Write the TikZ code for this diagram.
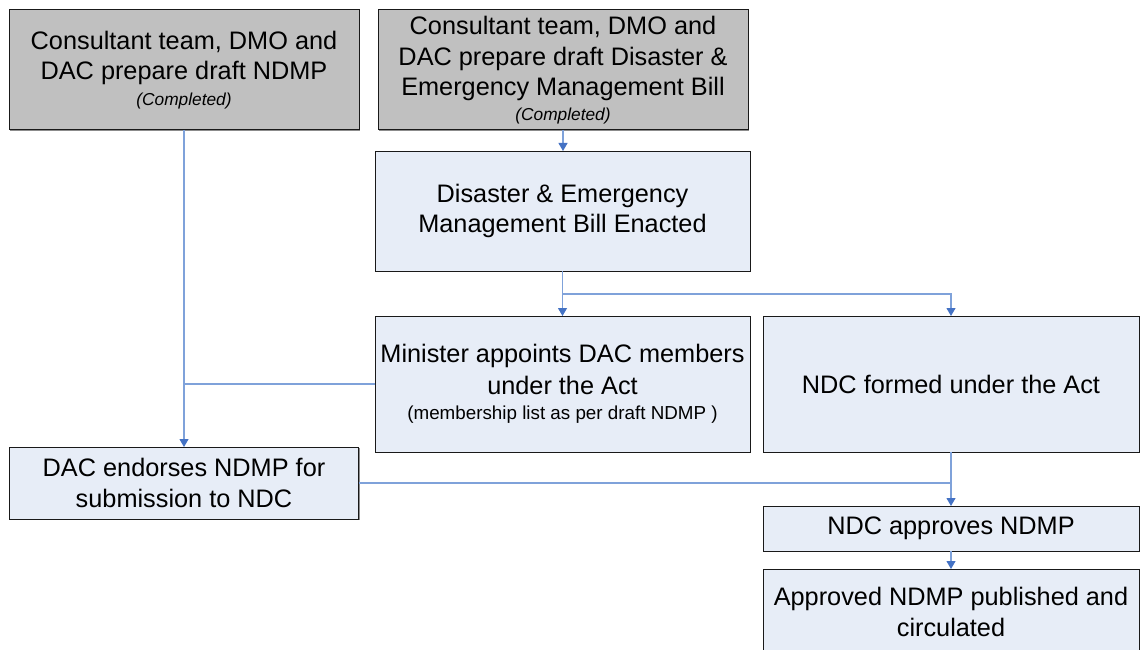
\documentclass[tikz,border=0pt]{standalone}
\usepackage{fontspec}
\setmainfont{Liberation Sans}
\usetikzlibrary{arrows.meta,shadows}
\definecolor{greyfill}{HTML}{C0C0C0}
\definecolor{bluefill}{HTML}{E7EDF7}
\definecolor{connc}{HTML}{7FA2DA}
\definecolor{tipc}{HTML}{4472C4}
\tikzset{
 stepbox/.style={draw=black!90, line width=1pt, inner sep=0pt, outer sep=0pt, align=center,
   font=\fontsize{25.3}{30.5}\selectfont, text=black,
   drop shadow={shadow xshift=1pt, shadow yshift=-1pt, fill=black!45, opacity=1}},
 donebox/.style={stepbox, fill=greyfill},
 openbox/.style={stepbox, fill=bluefill},
 link/.style={draw=connc, line width=1.1pt},
 arr/.style={link, -{Triangle[length=8pt,width=9pt,color=tipc]}},
}
\newcommand{\smalltxt}{\fontsize{17.3}{20}\selectfont}
\newcommand{\notetxt}{\fontsize{18.8}{22}\selectfont}
\begin{document}
\begin{tikzpicture}[x=1pt,y=-1pt]
\useasboundingbox (0,0) rectangle (1140,650);
\node[donebox, minimum width=350pt, minimum height=120pt] (b1) at (184,70)
  {Consultant team, DMO and\\DAC prepare draft NDMP\\[-5pt]{\smalltxt\itshape (Completed)}};
\node[donebox, minimum width=370pt, minimum height=120pt] (b2) at (563,70)
  {Consultant team, DMO and\\DAC prepare draft Disaster \&\\Emergency Management Bill\\[-6pt]{\smalltxt\itshape (Completed)}};
\node[openbox, minimum width=375pt, minimum height=120pt] (b3) at (562.5,211)
  {Disaster \& Emergency\\Management Bill Enacted};
\node[openbox, minimum width=375pt, minimum height=136pt] (b4) at (562.5,384)
  {Minister appoints DAC members\\[1.5pt]under the Act\\[-5pt]{\notetxt (membership list as per draft NDMP )}};
\node[openbox, minimum width=376pt, minimum height=136pt] (b5) at (951,384)
  {NDC formed under the Act};
\node[openbox, minimum width=349pt, minimum height=72pt] (b6) at (184,483)
  {DAC endorses NDMP for\\submission to NDC};
\node[openbox, minimum width=376pt, minimum height=45pt] (b7) at (951,528.5)
  {NDC approves NDMP};
\node[openbox, minimum width=376pt, minimum height=86pt] (b8) at (951,612)
  {Approved NDMP published and\\circulated};
% connectors
\draw[arr] (b1.south) -- (b1.south |- b6.north);
\draw[link] (b4.west) -- (b1.south |- b4.west);
\draw[arr] (b2.south) -- (b2.south |- b3.north);
\coordinate (j) at ([yshift=-23pt]b3.south);
\draw[arr] (b3.south) -- (b4.north);
\draw[arr] (j) -| (b5.north);
\draw[arr] (b5.south) -- (b7.north);
\draw[link] (b6.east) -- (b6.east -| b5.south);
\draw[arr] (b7.south) -- (b8.north);
\end{tikzpicture}
\end{document}
